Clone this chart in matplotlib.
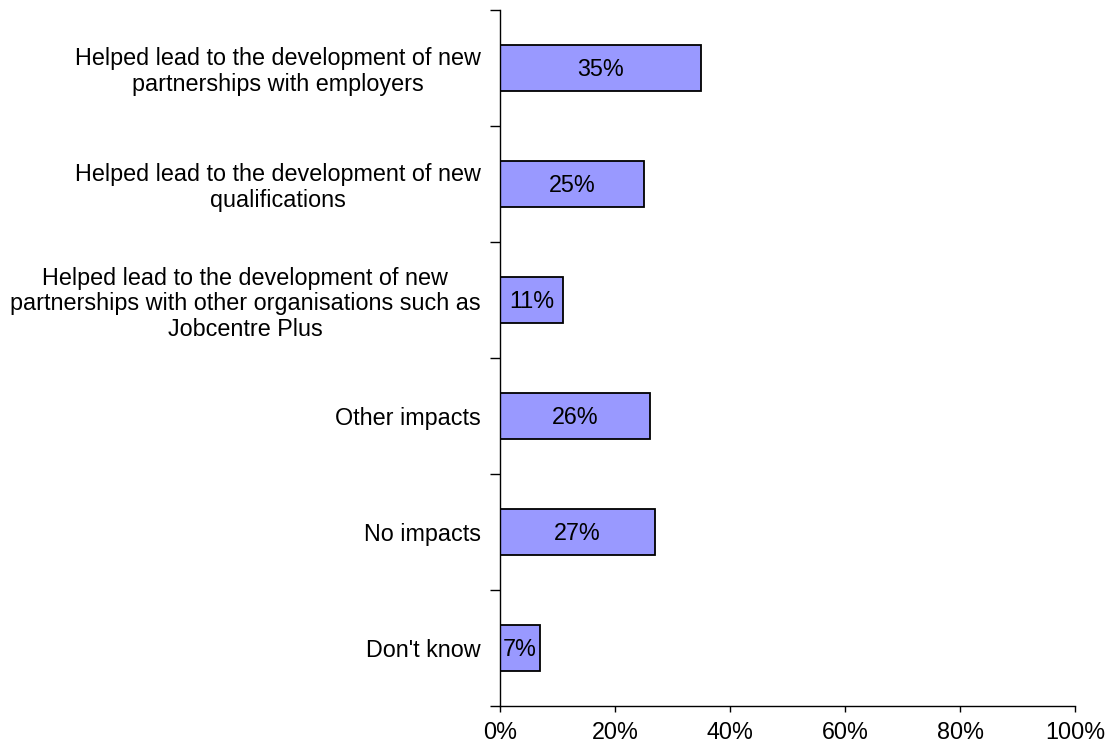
import matplotlib
matplotlib.use("Agg")
import matplotlib.pyplot as plt
from matplotlib.ticker import FixedLocator, PercentFormatter

plt.rcParams['font.family'] = ['Liberation Sans', 'DejaVu Sans']

categories = [
    "Helped lead to the development of new\npartnerships with employers",
    "Helped lead to the development of new\nqualifications",
    "Helped lead to the development of new\npartnerships with other organisations such as\nJobcentre Plus",
    "Other impacts",
    "No impacts",
    "Don't know",
]
values = [35, 25, 11, 26, 27, 7]
x_ticks = [0, 20, 40, 60, 80, 100]

FS = 16.8

fig = plt.figure(figsize=(11.11, 7.49), dpi=100)
ax = fig.add_axes([500 / 1111, 43 / 749, 575 / 1111, 696 / 749])

n = len(categories)
pos = list(range(n))
ax.barh(pos, values, height=0.405, color="#9999FF", edgecolor="black", linewidth=1.3)

for p, v in zip(pos, values):
    ax.text(v / 2, p + 0.01, f"{v}%", ha="center", va="center", fontsize=FS)

ax.set_xlim(0, 100)
ax.set_ylim(n - 0.5, -0.5)

ax.set_xticks(x_ticks)
ax.xaxis.set_major_formatter(PercentFormatter(decimals=0))
ax.tick_params(axis="x", direction="out", length=4.5, width=1, labelsize=FS, pad=6)

ax.set_yticks(pos)
ax.set_yticklabels(categories, fontsize=FS, ha="right", multialignment="center",
                   linespacing=1.15)
ax.tick_params(axis="y", which="major", length=0, pad=14)
ax.yaxis.set_minor_locator(FixedLocator([i - 0.5 for i in range(n + 1)]))
ax.tick_params(axis="y", which="minor", direction="out", length=7, width=1)

for side in ("top", "right"):
    ax.spines[side].set_visible(False)
for side in ("left", "bottom"):
    ax.spines[side].set_linewidth(1)

fig.savefig("out.png", dpi=100)
